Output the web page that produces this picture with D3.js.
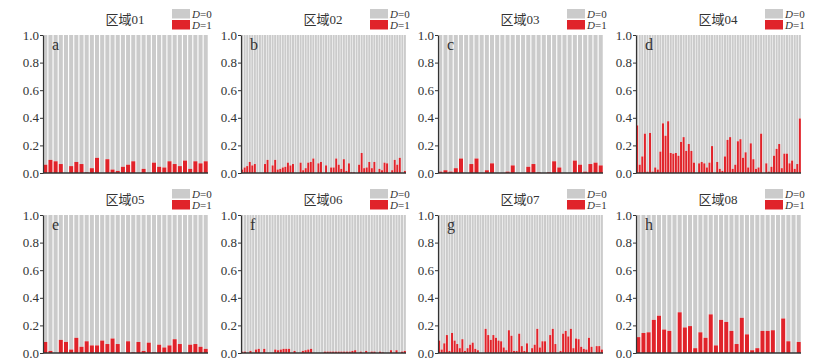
<!DOCTYPE html>
<html>
<head>
<meta charset="utf-8">
<script src="https://cdn.jsdelivr.net/npm/d3@7"></script>
<style>
body { margin: 0; background: #fff; }
svg { display: block; }
</style>
</head>
<body>
<div id="chart"></div>
<script>
// share of D=1 per unit, one array per region
var regionNames = ["区域01", "区域02", "区域03", "区域04", "区域05", "区域06", "区域07", "区域08"];
var panelLetters = ["a", "b", "c", "d", "e", "f", "g", "h"];
var yTicks = [0, 0.2, 0.4, 0.6, 0.8, 1.0];
var legendLabels = ["D=0", "D=1"];

var r01 = [0.06, 0.095, 0.085, 0.065, 0, 0.05, 0.08, 0.065, 0.005, 0.035, 0.11, 0, 0.10, 0.025, 0.015, 0.045,
  0.06, 0.085, 0, 0.03, 0, 0.075, 0.045, 0.04, 0.085, 0.065, 0.05, 0.09, 0.03, 0.085, 0.07, 0.085];
var r02 = [0.025, 0.04, 0.05, 0.08, 0.055, 0.065, 0, 0, 0, 0.065, 0.095, 0, 0.055, 0.095, 0.025, 0.03,
  0.04, 0.045, 0.075, 0.055, 0.065, 0, 0, 0.075, 0.02, 0.035, 0.075, 0.08, 0.105, 0, 0.07, 0.08,
  0, 0.055, 0, 0.04, 0.04, 0.105, 0.06, 0.03, 0.1, 0.015, 0.07, 0.005, 0.005, 0, 0.06, 0.145,
  0.035, 0.04, 0.08, 0.035, 0.08, 0, 0.03, 0.02, 0.075, 0.07, 0, 0.02, 0.095, 0.06, 0.11, 0, 0.015];
var r03 = [0.01, 0.02, 0.01, 0.035, 0.105, 0, 0.065, 0.105, 0, 0.02, 0.07, 0, 0, 0.01, 0.055, 0,
  0, 0.045, 0.065, 0.005, 0, 0.005, 0.085, 0.04, 0, 0, 0.09, 0.06, 0.01, 0.065, 0.075, 0.055];
var r04 = [0.345, 0.06, 0.12, 0.285, 0.01, 0.29, 0.01, 0.04, 0.025, 0.155, 0.36, 0.27, 0.375, 0.145, 0.14, 0.145,
  0.125, 0.225, 0.26, 0.16, 0.21, 0.16, 0.075, 0, 0.07, 0.08, 0.07, 0.04, 0.075, 0.195, 0, 0.08,
  0.03, 0.015, 0.12, 0.24, 0.26, 0.03, 0.06, 0.23, 0.245, 0.11, 0.15, 0.04, 0.215, 0.1, 0.03, 0.04,
  0.285, 0, 0.07, 0.01, 0.045, 0.125, 0.175, 0.21, 0.035, 0.14, 0.14, 0.07, 0.09, 0.03, 0.065, 0.395];
var r05 = [0.08, 0.015, 0, 0.095, 0.08, 0.025, 0.11, 0.045, 0.085, 0.055, 0.055, 0.09, 0.065, 0.105, 0.065, 0,
  0.085, 0.005, 0.08, 0.015, 0.075, 0.005, 0.06, 0.04, 0.055, 0.1, 0.065, 0, 0.06, 0.065, 0.045, 0.03];
var r06 = [0.01, 0.01, 0, 0.015, 0, 0.025, 0.03, 0, 0.03, 0, 0, 0, 0.025, 0.02, 0.025, 0.03,
  0.03, 0.03, 0, 0.015, 0, 0, 0.015, 0.02, 0.025, 0.03, 0, 0, 0, 0, 0.01, 0.01,
  0.01, 0.01, 0.01, 0.01, 0.01, 0.01, 0.01, 0.01, 0.015, 0.02, 0, 0.01, 0, 0.015, 0, 0.01,
  0.01, 0, 0.01, 0.005, 0, 0, 0.02, 0, 0.02, 0, 0.01, 0.015];
var r07 = [0.09, 0.025, 0.07, 0.13, 0.015, 0.145, 0.09, 0.065, 0.035, 0.1, 0.015, 0.035, 0.06, 0.075, 0.03, 0.02,
  0, 0, 0.175, 0.13, 0.095, 0.13, 0.11, 0.09, 0.085, 0.04, 0.02, 0.165, 0.125, 0.015, 0.015, 0.14,
  0.05, 0.015, 0.07, 0, 0.035, 0.06, 0.175, 0.04, 0.085, 0.085, 0, 0.13, 0.175, 0.065, 0, 0.015,
  0.14, 0.16, 0.12, 0.175, 0.035, 0.105, 0.1, 0.045, 0.03, 0.025, 0.11, 0.045, 0, 0.05, 0.05, 0.025];
var r08 = [0.115, 0.145, 0.15, 0.24, 0.27, 0.17, 0.16, 0, 0.295, 0.185, 0.195, 0.035, 0.15, 0.11, 0.28, 0.055,
  0.24, 0.225, 0.16, 0.065, 0.255, 0.135, 0.02, 0.035, 0.16, 0.16, 0.165, 0, 0.25, 0.085, 0, 0.08];

var regionValues = [r01, r02, r03, r04, r05, r06, r07, r08];

var W = 825, H = 363;
var grayColor = "#cbcbcb", redColor = "#e0232a", inkColor = "#333";
var serif = "'Liberation Serif', 'Times New Roman', serif";
var cjk = "'Liberation Serif', 'Noto Sans CJK SC', serif";

var colLeft = [43, 241, 438, 636];
var rowTop = [35, 215];
var plotW = 165, plotH = 138;

var svg = d3.select("#chart").append("svg")
  .attr("width", W).attr("height", H);

regionValues.forEach(function(vals, k) {
  var left = colLeft[k % 4], top = rowTop[Math.floor(k / 4)];
  var g = svg.append("g").attr("transform", "translate(" + left + "," + top + ")");

  var x = d3.scaleBand().domain(d3.range(vals.length)).range([0, plotW]).paddingInner(0.22).paddingOuter(0.05);
  var y = d3.scaleLinear().domain([0, 1]).range([plotH, 0]);

  // D=0 part sits on top of the D=1 part
  g.selectAll(".bar0").data(vals).enter().append("rect")
    .attr("x", function(d, i) { return x(i); })
    .attr("y", y(1))
    .attr("width", x.bandwidth())
    .attr("height", function(d) { return y(d) - y(1); })
    .attr("fill", grayColor);

  g.selectAll(".bar1").data(vals).enter().append("rect")
    .attr("x", function(d, i) { return x(i); })
    .attr("y", function(d) { return y(d); })
    .attr("width", x.bandwidth())
    .attr("height", function(d) { return y(0) - y(d); })
    .attr("fill", redColor);

  var yAxis = d3.axisLeft(y).tickValues(yTicks).tickFormat(d3.format(".1f")).tickSize(3).tickSizeOuter(0);
  var ax = g.append("g").call(yAxis);
  ax.select(".domain").attr("stroke", inkColor).attr("stroke-width", 1.2);
  ax.selectAll(".tick line").attr("stroke", inkColor);
  ax.selectAll(".tick text").attr("font-family", serif).attr("font-size", 13).attr("fill", inkColor).attr("x", -4);

  // baseline
  g.append("line").attr("x1", 0).attr("x2", plotW).attr("y1", y(0)).attr("y2", y(0))
    .attr("stroke", inkColor).attr("stroke-width", 1.5);

  g.append("text").attr("x", 9).attr("y", 15).text(panelLetters[k])
    .attr("font-family", serif).attr("font-size", 16).attr("fill", inkColor);

  g.append("text").attr("x", 82).attr("y", -11).text(regionNames[k])
    .attr("text-anchor", "middle").attr("font-family", cjk).attr("font-size", 13).attr("fill", inkColor);

  // legend
  var lg = g.append("g").attr("transform", "translate(" + (plotW - 36) + "," + (-26) + ")");
  [grayColor, redColor].forEach(function(c, j) {
    lg.append("rect").attr("x", 0).attr("y", j * 11).attr("width", 18).attr("height", 9.5).attr("fill", c);
    var t = lg.append("text").attr("x", 20).attr("y", j * 11 + 8.5)
      .attr("font-family", serif).attr("font-size", 11).attr("fill", inkColor);
    var parts = legendLabels[j].split("=");
    t.append("tspan").attr("font-style", "italic").text(parts[0]);
    t.append("tspan").text("=" + parts[1]);
  });
});
</script>
</body>
</html>
